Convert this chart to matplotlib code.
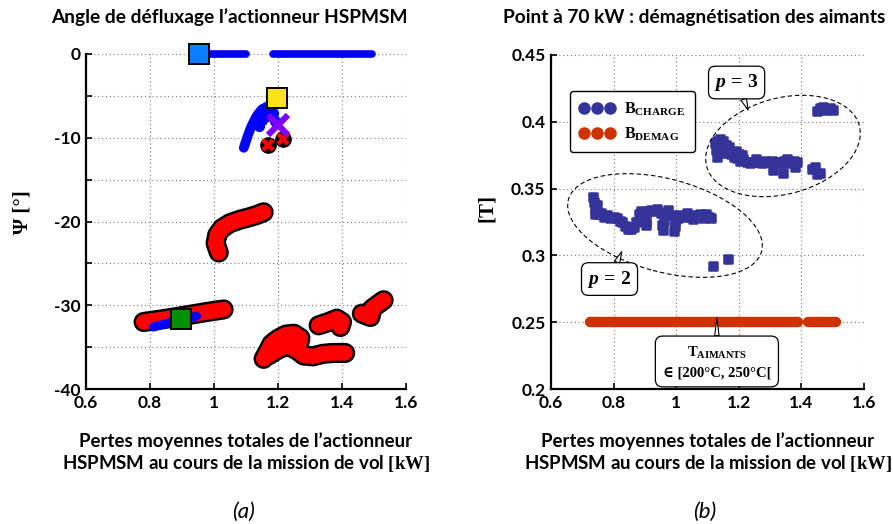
import matplotlib
matplotlib.use('Agg')
import matplotlib.pyplot as plt
from matplotlib.patches import Ellipse
from matplotlib.lines import Line2D
from matplotlib.markers import MarkerStyle

plt.rcParams['font.family'] = ['Lato', 'DejaVu Sans']
plt.rcParams['mathtext.fontset'] = 'custom'
plt.rcParams['mathtext.rm'] = 'Liberation Serif:bold'
plt.rcParams['mathtext.it'] = 'Liberation Serif:italic:bold'
plt.rcParams['mathtext.bf'] = 'Liberation Serif:bold'

# ---------------- data: panel (a) ----------------
x_ticks = [0.6, 0.8, 1.0, 1.2, 1.4, 1.6]
x_ticklabels = ['0.6', '0.8', '1', '1.2', '1.4', '1.6']
psi_ticks = [0, -5, -10, -15, -20, -25, -30, -35, -40]
psi_ticklabels = ['0', '', '-10', '', '-20', '', '-30', '', '-40']

# blue operating points at Psi = 0 (two continuous runs)
zero_run1_x = [0.955, 1.10]
zero_run2_x = [1.185, 1.495]

# blue branch near -5 .. -11 deg
blue_branch_x = [1.195, 1.17, 1.15, 1.135, 1.125, 1.115, 1.107, 1.100, 1.093]
blue_branch_y = [-5.8, -6.2, -6.6, -7.3, -8.0, -8.8, -9.6, -10.4, -11.2]
blue_extra_x = [1.185, 1.19, 1.165, 1.175, 1.15, 1.14, 1.16, 1.13]
blue_extra_y = [-7.0, -8.0, -7.4, -6.0, -7.9, -8.6, -6.6, -7.6]

# blue branch under the left red band
blue_low_x = [0.81, 0.85, 0.90, 0.945]
blue_low_y = [-32.6, -32.2, -31.7, -31.3]

# red (demagnetising) designs, drawn as bands
red_A_x = [1.015, 1.005, 1.01, 1.025, 1.05, 1.08, 1.11, 1.135, 1.155]
red_A_y = [-23.7, -22.6, -21.6, -20.8, -20.2, -19.8, -19.5, -19.2, -18.9]
red_B_x = [0.78, 0.853, 0.916, 0.978, 1.03]
red_B_y = [-32.0, -31.6, -31.2, -30.8, -30.5]
red_C1_x = [1.155, 1.168, 1.18, 1.20, 1.225, 1.25, 1.27, 1.265]
red_C1_y = [-36.4, -35.5, -34.6, -34.0, -33.5, -33.4, -33.9, -34.8]
red_C2_x = [1.17, 1.20, 1.23, 1.26, 1.28, 1.31, 1.34, 1.37, 1.41]
red_C2_y = [-36.0, -35.3, -34.8, -35.4, -36.0, -36.1, -35.8, -35.7, -35.7]
red_D_x = [1.327, 1.358, 1.384, 1.40, 1.395]
red_D_y = [-32.4, -32.0, -31.6, -32.0, -32.6]
red_E_x = [1.462, 1.489, 1.494, 1.515, 1.53]
red_E_y = [-31.0, -31.4, -30.4, -29.8, -29.4]
red_pts_x = [1.17, 1.217]
red_pts_y = [-10.9, -10.1]

# highlighted designs
sq_blue = (0.953, 0.0)
sq_yellow = (1.198, -5.3)
sq_green = (0.897, -31.6)
x_purple = (1.201, -8.5)

# ---------------- data: panel (b) ----------------
b_ticks = [0.2, 0.25, 0.3, 0.35, 0.4, 0.45]
b_ticklabels = ['0.2', '0.25', '0.3', '0.35', '0.4', '0.45']

bcharge_p2_x = [0.735, 0.737, 0.739, 0.741, 0.745, 0.752, 0.760, 0.770, 0.780, 0.790,
                0.800, 0.810, 0.820, 0.828, 0.835, 0.845, 0.855, 0.865, 0.872, 0.880,
                0.888, 0.896, 0.905, 0.912, 0.920, 0.930, 0.940, 0.950, 0.955, 0.958,
                0.965, 0.975, 0.985, 0.992, 0.995, 1.005, 1.015, 1.025, 1.035, 1.045,
                1.055, 1.065, 1.075, 1.085, 1.095, 1.105, 1.112, 1.118, 1.166, 0.748,
                0.905, 0.960, 0.996]
bcharge_p2_y = [0.344, 0.340, 0.335, 0.331, 0.334, 0.331, 0.332, 0.329, 0.330, 0.328,
                0.329, 0.328, 0.326, 0.325, 0.322, 0.320, 0.320, 0.321, 0.325, 0.331,
                0.333, 0.331, 0.326, 0.333, 0.334, 0.333, 0.335, 0.332, 0.323, 0.319,
                0.330, 0.334, 0.330, 0.318, 0.326, 0.328, 0.330, 0.329, 0.332, 0.329,
                0.327, 0.330, 0.331, 0.328, 0.331, 0.329, 0.328, 0.292, 0.297, 0.338,
                0.323, 0.326, 0.322]

bcharge_p3_x = [1.125, 1.13, 1.14, 1.15, 1.128, 1.14, 1.155, 1.165, 1.175, 1.185,
                1.195, 1.205, 1.215, 1.225, 1.235, 1.245, 1.255, 1.265, 1.275, 1.285,
                1.295, 1.305, 1.31, 1.315, 1.325, 1.335, 1.34, 1.345, 1.355, 1.365,
                1.375, 1.38, 1.385, 1.435, 1.445, 1.45, 1.46, 1.45, 1.46, 1.47,
                1.48, 1.49, 1.50, 1.13, 1.145, 1.16, 1.17, 1.19, 1.20, 1.21]
bcharge_p3_y = [0.384, 0.386, 0.387, 0.386, 0.379, 0.377, 0.380, 0.377, 0.376, 0.374,
                0.373, 0.371, 0.372, 0.370, 0.369, 0.370, 0.372, 0.370, 0.369, 0.371,
                0.370, 0.371, 0.364, 0.370, 0.370, 0.369, 0.362, 0.371, 0.372, 0.369,
                0.371, 0.366, 0.370, 0.365, 0.366, 0.361, 0.362, 0.408, 0.410, 0.411,
                0.409, 0.410, 0.409, 0.374, 0.382, 0.383, 0.381, 0.378, 0.376, 0.375]

bdemag_run1_x = [0.725, 1.39]
bdemag_run2_x = [1.422, 1.51]
bdemag_level = 0.25

# ---------------- figure ----------------
W, H = 893, 524
fig = plt.figure(figsize=(W / 100, H / 100), dpi=100)
axA = fig.add_axes([86 / W, 135 / H, 320 / W, 335 / H])
axB = fig.add_axes([551 / W, 135 / H, 313 / W, 334 / H])

BLUE = '#0000FF'
RED = '#FF0000'
NAVY = '#333399'
ORANGE = '#CC3300'


def style_axes(ax, xt, xtl, yt, ytl, ylim):
    ax.set_xlim(0.6, 1.6)
    ax.set_ylim(*ylim)
    ax.set_xticks(xt)
    ax.set_xticklabels(xtl)
    ax.set_yticks(yt)
    ax.set_yticklabels(ytl)
    for s in ('top', 'right'):
        ax.spines[s].set_visible(False)
    for s in ('left', 'bottom'):
        ax.spines[s].set_linewidth(1.6)
    ax.tick_params(direction='in', length=4, width=1.2, labelsize=12.5, pad=4)
    for lab in ax.get_xticklabels() + ax.get_yticklabels():
        lab.set_fontweight('bold')
    ax.grid(True, ls=(0, (1, 2.5)), color='#777777', lw=0.8)
    ax.set_axisbelow(True)


style_axes(axA, x_ticks, x_ticklabels, psi_ticks, psi_ticklabels, (-40, 0))
style_axes(axB, x_ticks, x_ticklabels, b_ticks, b_ticklabels, (0.2, 0.45))

# ---- panel (a) ----
red_bands = [(red_A_x, red_A_y), (red_B_x, red_B_y), (red_C1_x, red_C1_y),
             (red_C2_x, red_C2_y), (red_D_x, red_D_y), (red_E_x, red_E_y)]
for bx, by in red_bands:
    axA.plot(bx, by, color='black', lw=14.5, solid_capstyle='round', solid_joinstyle='round', zorder=3)
for bx, by in red_bands:
    axA.plot(bx, by, color=RED, lw=11, solid_capstyle='round', solid_joinstyle='round', zorder=4)
axA.plot(red_pts_x, red_pts_y, 'o', ms=11, color='black', zorder=4)
axA.plot(red_pts_x, red_pts_y, 'x', ms=7, mew=3.2, color=RED, zorder=5)

axA.plot(blue_low_x, blue_low_y, color=BLUE, lw=6.5, solid_capstyle='round', zorder=5)
for rx in (zero_run1_x, zero_run2_x):
    axA.plot(rx, [0, 0], color=BLUE, lw=5.5, solid_capstyle='round', zorder=5, clip_on=False)
axA.plot(blue_branch_x, blue_branch_y, color=BLUE, lw=7, solid_capstyle='round',
         solid_joinstyle='round', zorder=5)
axA.plot(blue_extra_x, blue_extra_y, 'o', ms=7, color=BLUE, zorder=5)

axA.plot(*x_purple, 'x', ms=14, mew=4.5, color='#8000FF', zorder=6)
for (px, py), c in ((sq_blue, '#0A7FFF'), (sq_yellow, '#FFE21A'), (sq_green, '#009000')):
    axA.plot(px, py, 's', ms=14, mfc=c, mec='black', mew=1.4, zorder=7, clip_on=False)

# ---- panel (b) ----
sq_marker = MarkerStyle('s', joinstyle='round')
for bx in (bdemag_run1_x, bdemag_run2_x):
    axB.plot(bx, [bdemag_level] * 2, color=ORANGE, lw=7.5, solid_capstyle='round', zorder=4)
axB.plot(bcharge_p2_x, bcharge_p2_y, ls='none', marker=sq_marker, ms=5.5, mew=1.8,
         color=NAVY, zorder=4)
axB.plot(bcharge_p3_x, bcharge_p3_y, ls='none', marker=sq_marker, ms=5.5, mew=1.8,
         color=NAVY, zorder=4)

handles = [Line2D([], [], ls='none', marker='o', ms=8, color=NAVY),
           Line2D([], [], ls='none', marker='o', ms=8, color=ORANGE)]
leg = axB.legend(handles, [r'$\mathrm{B}_{\mathrm{CHARGE}}$', r'$\mathrm{B}_{\mathrm{DEMAG}}$'],
                 loc='upper left', bbox_to_anchor=(0.061, 0.892), borderaxespad=0,
                 numpoints=3, handlelength=2.2, handletextpad=0.6, borderpad=0.6,
                 labelspacing=0.45, fontsize=11.5, fancybox=True, framealpha=1,
                 edgecolor='black')
leg.get_frame().set_linewidth(1.0)
leg.set_zorder(8)

bbox_kw = dict(boxstyle='round,pad=0.3,rounding_size=0.35', fc='white', ec='black', lw=0.9)
arrow_kw = dict(arrowstyle='wedge,tail_width=0.3', fc='white', ec='black', lw=0.8,
                shrinkA=0, shrinkB=0)
axB.annotate(r'$p\,=\,3$', xy=(1.23, 0.4088), xytext=(1.193, 0.4294), ha='center',
             va='center', fontsize=14, bbox=bbox_kw, arrowprops=arrow_kw, zorder=9)
axB.annotate(r'$p\,=\,2$', xy=(0.826, 0.3028), xytext=(0.787, 0.2823), ha='center',
             va='center', fontsize=14, bbox=bbox_kw, arrowprops=arrow_kw, zorder=9)
axB.annotate(r'$\mathrm{T}_{\mathrm{AIMANTS}}$' + '\n' + '∈ [200°C, 250°C[',
             xy=(1.13, 0.2531), xytext=(1.13, 0.2202), ha='center', va='center',
             fontsize=10.5, fontweight='bold', family=['Liberation Serif', 'DejaVu Serif'],
             linespacing=1.6, bbox=dict(boxstyle='round,pad=0.5,rounding_size=0.5',
                                        fc='white', ec='black', lw=0.9),
             arrowprops=arrow_kw, zorder=9)

# dashed ellipses grouping the pole-pair families (drawn in pixel space)
for cx, cy, w, h, ang in ((665, 225.5, 200, 93, -15), (783, 146, 158, 96, 15)):
    e = Ellipse((cx / 100, (H - cy) / 100), w / 100, h / 100, angle=ang,
                transform=fig.dpi_scale_trans, fill=False, ec='black', lw=0.8,
                ls=(0, (4, 2.5)), zorder=6, clip_on=False)
    axB.add_patch(e)

# ---- texts ----
fig.text(229.5 / W, 1 - 17 / H, "Angle de défluxage l’actionneur HSPMSM", ha='center',
         va='center', fontsize=13.8, fontweight='bold')
fig.text(694.5 / W, 1 - 17 / H, 'Point à 70 kW : démagnétisation des aimants', ha='center',
         va='center', fontsize=13.8, fontweight='bold')

for cx in (246, 708):
    fig.text(cx / W, 1 - 441 / H, 'Pertes moyennes totales de l’actionneur', ha='center',
             va='center', fontsize=13.4, fontweight='bold')
    fig.text(cx / W, 1 - 463 / H, r'HSPMSM au cours de la mission de vol $\mathrm{[kW]}$',
             ha='center', va='center', fontsize=13.4, fontweight='bold')

fig.text(243 / W, 1 - 512 / H, '(a)', ha='center', va='center', fontsize=16, style='italic')
fig.text(705 / W, 1 - 512 / H, '(b)', ha='center', va='center', fontsize=16, style='italic')

fig.text(22 / W, 1 - 212 / H, 'Ψ [°]', rotation=90, ha='center', va='center', fontsize=15,
         fontweight='bold', family=['Liberation Serif', 'DejaVu Serif'])
fig.text(487 / W, 1 - 208 / H, '[T]', rotation=90, ha='center', va='center', fontsize=15,
         fontweight='bold', family=['Liberation Serif', 'DejaVu Serif'])

fig.savefig('out.png', dpi=100)
